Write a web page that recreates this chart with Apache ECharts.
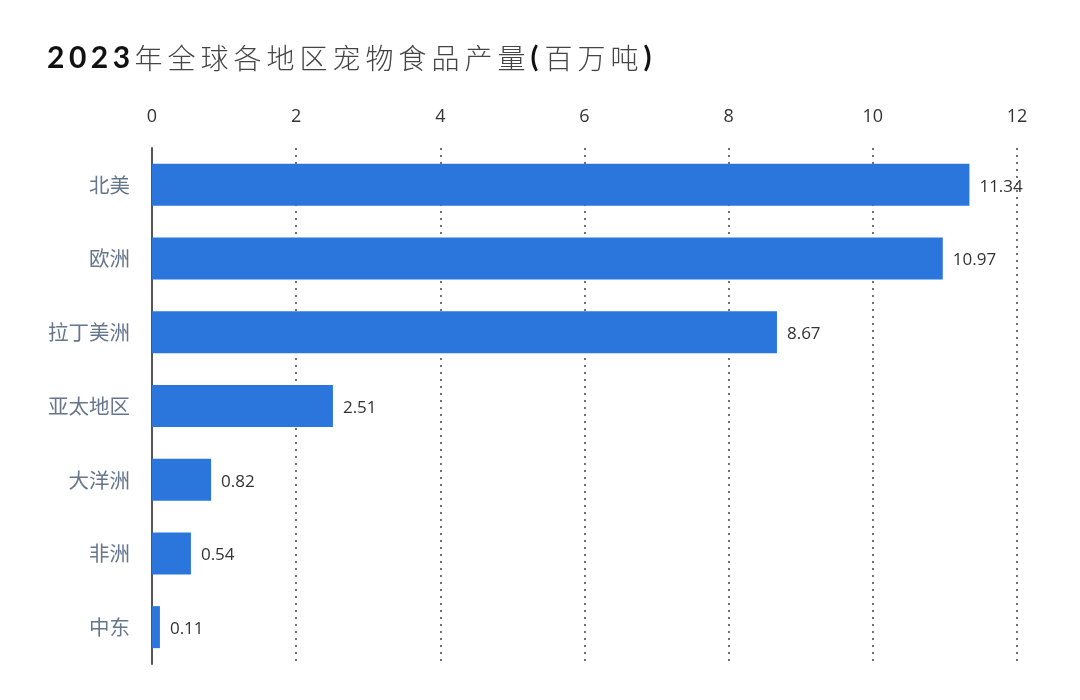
<!DOCTYPE html>
<html>
<head>
<meta charset="utf-8">
<script src="https://cdn.jsdelivr.net/npm/echarts@6/dist/echarts.min.js"></script>
<style>
html,body{margin:0;padding:0;background:#fff;}
#main{width:1080px;height:700px;}
</style>
</head>
<body>
<div id="main"></div>
<script>
// 地区 和 产量(百万吨)
var regions = ["北美", "欧洲", "拉丁美洲", "亚太地区", "大洋洲", "非洲", "中东"];
var output = [11.34, 10.97, 8.67, 2.51, 0.82, 0.54, 0.11];
var xTicks = [0, 2, 4, 6, 8, 10, 12];
var titleYear = "2023";
var titleText = "年全球各地区宠物食品产量(百万吨)";

// 标题 逐字拉开间距
function spacedTitle() {
    var s = "";
    for (var i = 0; i < titleYear.length; i++) {
        s += "{d|" + titleYear[i] + "}";
    }
    for (var j = 0; j < titleText.length; j++) {
        var c = titleText[j];
        s += (c == "(" || c == ")") ? "{p|" + c + "}" : "{c|" + c + "}";
    }
    return s;
}

var myChart = echarts.init(document.getElementById("main"));
option = {
    backgroundColor: "#fff",
    title: {
        text: spacedTitle(),
        left: 42,
        top: 38,
        textStyle: {
            rich: {
                d: {
                    fontFamily: "Lato, 'Noto Sans'",
                    fontSize: 30,
                    fontWeight: "bold",
                    color: "#111",
                    width: 21.9
                },
                c: {
                    fontFamily: "'Noto Sans CJK SC'",
                    fontSize: 28,
                    fontWeight: 300,
                    color: "#444",
                    width: 33
                },
                p: {
                    fontFamily: "Lato, 'Noto Sans'",
                    fontSize: 29,
                    fontWeight: "bold",
                    color: "#111",
                    width: 14
                }
            }
        }
    },
    grid: {
        left: 152,
        right: 63,
        top: 148,
        bottom: 36
    },
    xAxis: {
        type: "value",
        position: "top",
        min: 0,
        max: 12,
        interval: 2,
        axisLine: { show: false },
        axisTick: { show: false },
        axisLabel: {
            fontFamily: "'Open Sans', 'Noto Sans'",
            fontSize: 18,
            color: "#333",
            margin: 22
        },
        splitLine: {
            show: true,
            lineStyle: {
                type: [2, 5],
                color: "#444",
                width: 1.5
            }
        }
    },
    yAxis: {
        type: "category",
        inverse: true,
        data: regions,
        axisLine: {
            show: true,
            lineStyle: { color: "#555", width: 2 }
        },
        axisTick: { show: false },
        axisLabel: {
            fontFamily: "'Noto Sans CJK SC'",
            fontSize: 20.5,
            color: "#66768c",
            margin: 22
        }
    },
    series: [{
        type: "bar",
        data: output,
        barWidth: 42,
        itemStyle: {
            color: "#2a76dd"
        },
        label: {
            show: true,
            position: "right",
            distance: 10,
            offset: [0, 2],
            fontFamily: "'Open Sans', 'Noto Sans'",
            fontSize: 17,
            color: "#333"
        }
    }]
};
myChart.setOption(option);
</script>
</body>
</html>
